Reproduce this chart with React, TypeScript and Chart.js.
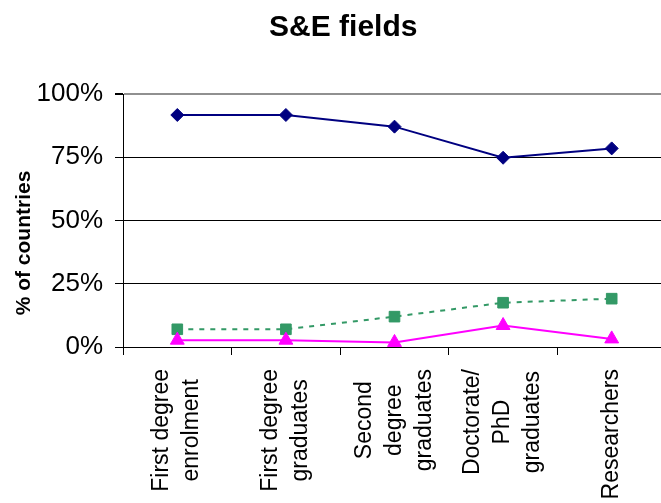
import { useEffect, useRef } from "react";
import { Chart, registerables } from "chart.js";

Chart.register(...registerables);

const chartTitle = "S&E fields";
const yAxisTitle = "% of countries";
const categories: string[][] = [
  ["First degree", "enrolment"],
  ["First degree", "graduates"],
  ["Second", "degree", "graduates"],
  ["Doctorate/", "PhD", "graduates"],
  ["Researchers"],
];
const seriesNavy = [91.7, 91.7, 87.1, 74.8, 78.5];
const seriesGreen = [7.0, 7.0, 12.0, 17.5, 19.1];
const seriesMagenta = [2.7, 2.7, 1.8, 8.5, 3.2];
const yTickValues = [0, 25, 50, 75, 100];

const FONT = '"Liberation Sans", Arial, sans-serif';

const labelPlugin = {
  id: "rotatedCenteredLabels",
  afterDraw(chart: any) {
    const ctx = chart.ctx as CanvasRenderingContext2D;
    const xs = chart.scales.x;
    ctx.save();
    ctx.fillStyle = "#000";
    ctx.textBaseline = "alphabetic";
    ctx.textAlign = "center";
    ctx.font = `23px ${FONT}`;
    categories.forEach((lines, i) => {
      const px = xs.getPixelForTick(i);
      const maxW = Math.max(...lines.map((l) => ctx.measureText(l).width));
      const cy = xs.top + 22 + maxW / 2;
      ctx.save();
      ctx.translate(px, cy);
      ctx.rotate(-Math.PI / 2);
      lines.forEach((l, j) => {
        ctx.fillText(l, 0, 6 + (j - (lines.length - 1) / 2) * 30);
      });
      ctx.restore();
    });
    ctx.font = `bold 21px ${FONT}`;
    ctx.translate(30, 243);
    ctx.rotate(-Math.PI / 2);
    ctx.fillText(yAxisTitle, 0, 0);
    ctx.restore();
  },
};

export default function App() {
  const ref = useRef<HTMLCanvasElement | null>(null);

  useEffect(() => {
    if (!ref.current) return;
    const chart = new Chart(ref.current, {
      type: "line",
      data: {
        labels: categories,
        datasets: [
          {
            data: seriesNavy,
            borderColor: "#000080",
            backgroundColor: "#000080",
            borderWidth: 2,
            pointStyle: "rectRot",
            pointRadius: 6.5,
            pointBorderWidth: 1,
            pointBorderColor: "#000080",
            pointBackgroundColor: "#000080",
            tension: 0,
            order: 2,
          },
          {
            data: seriesGreen,
            borderColor: "#339966",
            backgroundColor: "#339966",
            borderWidth: 2,
            borderDash: [5, 6],
            pointStyle: "rect",
            pointRadius: 7.5,
            pointBorderWidth: 1,
            pointBorderColor: "#339966",
            pointBackgroundColor: "#339966",
            tension: 0,
            order: 1,
          },
          {
            data: seriesMagenta,
            borderColor: "#FF00FF",
            backgroundColor: "#FF00FF",
            borderWidth: 2,
            pointStyle: "triangle",
            pointRadius: 8,
            pointBorderWidth: 1,
            pointBorderColor: "#FF00FF",
            pointBackgroundColor: "#FF00FF",
            tension: 0,
            order: 0,
          },
        ],
      },
      options: {
        animation: false,
        responsive: false,
        devicePixelRatio: 1,
        layout: { autoPadding: false, padding: { left: 20.5, right: 0, top: 0, bottom: 0 } },
        plugins: {
          legend: { display: false },
          tooltip: { enabled: false },
          title: {
            display: true,
            text: chartTitle,
            color: "#000",
            font: { family: FONT, size: 30, weight: "bold", lineHeight: 1.2 },
            padding: { top: 10, bottom: 48 },
          },
        },
        scales: {
          x: {
            type: "category",
            offset: true,
            grid: {
              offset: true,
              drawOnChartArea: false,
              drawTicks: true,
              tickLength: 8,
              tickColor: "#000",
              color: "#000",
            },
            border: { display: true, color: "#000", width: 1 },
            ticks: { display: false },
            afterFit: (s: any) => {
              s.height = 156;
            },
          },
          y: {
            min: 0,
            max: 100,
            afterBuildTicks: (s: any) => {
              s.ticks = yTickValues.map((v) => ({ value: v }));
            },
            ticks: {
              color: "#000",
              padding: 12,
              font: { family: FONT, size: 26 },
              callback: (v: any) => `${v}%`,
            },
            grid: {
              color: (c: any) => (c.tick && c.tick.value === 100 ? "#909090" : "#000"),
              lineWidth: (c: any) => (c.tick && c.tick.value === 100 ? 2 : 1),
              tickColor: "#000",
              tickLength: 8,
              drawTicks: true,
            },
            border: { display: true, color: "#000", width: 1 },
            afterFit: (s: any) => {
              s.width = 102.5;
            },
          },
        },
      },
      plugins: [labelPlugin],
    });
    return () => chart.destroy();
  }, []);

  return (
    <div
      style={{
        position: "fixed",
        left: 0,
        top: 0,
        width: 661,
        height: 503,
        overflow: "hidden",
        background: "#fff",
      }}
    >
      <canvas ref={ref} width={666} height={503} style={{ display: "block" }} />
    </div>
  );
}
